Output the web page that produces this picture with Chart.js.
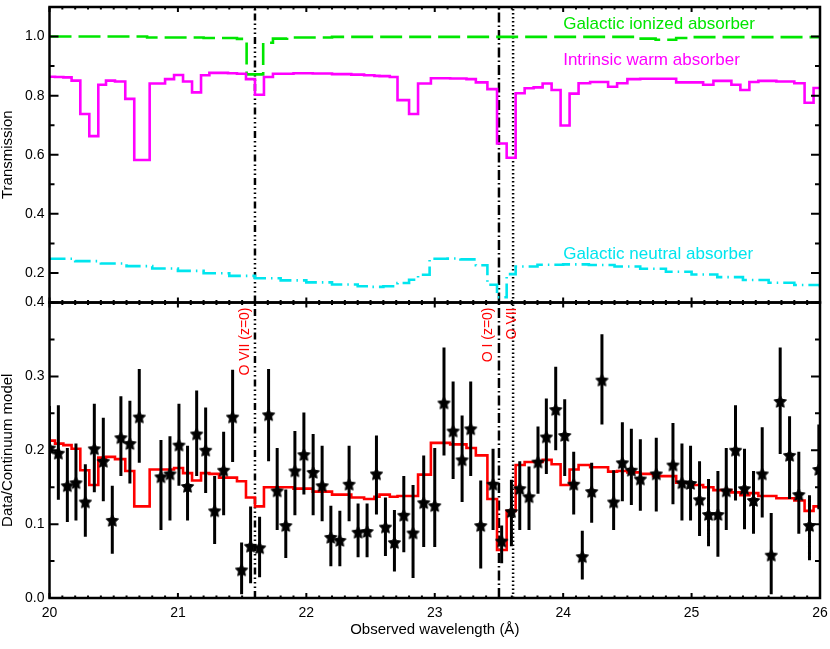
<!DOCTYPE html>
<html>
<head>
<meta charset="utf-8">
<title>Transmission and Data/Continuum model</title>
<script src="https://cdn.jsdelivr.net/npm/chart.js@4.4.1/dist/chart.umd.min.js"></script>
<style>
  html, body { margin: 0; padding: 0; background: #fff; }
  canvas { display: block; }
</style>
</head>
<body>
<canvas id="chart" width="830" height="649"></canvas>
<script>
// model bins (left edges, last one closes the range), in Angstrom
const binEdges = [20.000, 20.043, 20.108, 20.172, 20.240, 20.310, 20.380, 20.440, 20.510, 20.590,
  20.660, 20.780, 20.900, 20.970, 21.040, 21.110, 21.180, 21.245, 21.320, 21.390,
  21.460, 21.530, 21.600, 21.670, 21.740, 21.900, 22.050, 22.200, 22.350, 22.450,
  22.530, 22.570, 22.650, 22.710, 22.800, 22.870, 22.970, 23.120, 23.247, 23.320,
  23.410, 23.485, 23.560, 23.630, 23.700, 23.770, 23.840, 23.910, 23.980, 24.050,
  24.120, 24.210, 24.350, 24.420, 24.500, 24.600, 24.700, 24.880, 25.000, 25.090,
  25.170, 25.310, 25.380, 25.450, 25.520, 25.660, 25.800, 25.880, 25.950, 26.000];
const warmTrans = [0.864, 0.863, 0.862, 0.851, 0.738, 0.663, 0.837, 0.851, 0.848, 0.789,
  0.582, 0.841, 0.856, 0.870, 0.848, 0.811, 0.869, 0.877, 0.877, 0.876,
  0.874, 0.856, 0.803, 0.863, 0.874, 0.876, 0.875, 0.873, 0.871, 0.869,
  0.867, 0.866, 0.863, 0.785, 0.738, 0.841, 0.859, 0.858, 0.856, 0.845,
  0.822, 0.638, 0.590, 0.808, 0.825, 0.828, 0.841, 0.819, 0.699, 0.807,
  0.842, 0.846, 0.830, 0.842, 0.856, 0.857, 0.857, 0.845, 0.845, 0.837,
  0.850, 0.837, 0.819, 0.846, 0.850, 0.848, 0.842, 0.776, 0.826, 0.826];
const modelRatio = [0.213, 0.209, 0.207, 0.202, 0.173, 0.153, 0.190, 0.191, 0.188, 0.172,
  0.124, 0.174, 0.174, 0.176, 0.169, 0.159, 0.169, 0.168, 0.163, 0.163,
  0.158, 0.136, 0.124, 0.150, 0.150, 0.148, 0.144, 0.140, 0.136, 0.134,
  0.137, 0.140, 0.137, 0.138, 0.138, 0.167, 0.210, 0.208, 0.203, 0.193,
  0.134, 0.065, 0.118, 0.180, 0.184, 0.184, 0.187, 0.181, 0.153, 0.174,
  0.180, 0.177, 0.171, 0.172, 0.170, 0.168, 0.165, 0.156, 0.153, 0.150,
  0.146, 0.143, 0.139, 0.142, 0.138, 0.135, 0.132, 0.118, 0.124, 0.124];

// galactic ionized absorber
const ionEdges = [20.00, 20.76, 21.20, 21.46, 21.535, 21.664, 21.74, 21.85, 22.20, 24.57, 24.72, 24.88, 25.00, 26.00];
const ionTrans = [1.000, 0.997, 0.995, 0.992, 0.872, 0.979, 0.993, 0.997, 0.999, 0.993, 0.989, 0.995, 0.998, 0.998];

// galactic neutral absorber
const neuEdges = [20.0, 20.2, 20.4, 20.6, 20.8, 21.0, 21.2, 21.4, 21.6, 21.8,
  22.0, 22.2, 22.4, 22.5, 22.6, 22.71, 22.80, 22.87, 22.96, 23.1,
  23.2, 23.32, 23.41, 23.485, 23.56, 23.63, 23.8, 24.0, 24.2, 24.4,
  24.6, 24.8, 25.0, 25.2, 25.4, 25.6, 25.8, 26.0];
const neuTrans = [0.248, 0.240, 0.232, 0.223, 0.215, 0.207, 0.199, 0.190, 0.182, 0.175,
  0.168, 0.161, 0.155, 0.153, 0.155, 0.166, 0.177, 0.194, 0.248, 0.249,
  0.246, 0.226, 0.160, 0.118, 0.196, 0.222, 0.228, 0.229, 0.227, 0.222,
  0.214, 0.204, 0.195, 0.186, 0.176, 0.167, 0.159, 0.151];

// data / continuum with 1-sigma ranges
const dataLambda = [20.000, 20.069, 20.139, 20.206, 20.279, 20.349, 20.419, 20.489, 20.556, 20.626,
  20.699, 20.868, 20.938, 21.008, 21.075, 21.146, 21.216, 21.286, 21.356, 21.426,
  21.496, 21.566, 21.636, 21.706, 21.773, 21.840, 21.911, 21.981, 22.053, 22.123,
  22.191, 22.261, 22.333, 22.403, 22.473, 22.546, 22.616, 22.686, 22.759, 22.831,
  22.914, 23.000, 23.072, 23.143, 23.213, 23.280, 23.358, 23.454, 23.521, 23.597,
  23.662, 23.734, 23.804, 23.869, 23.942, 24.012, 24.082, 24.149, 24.222, 24.302,
  24.393, 24.461, 24.531, 24.601, 24.725, 24.855, 24.925, 24.992, 25.062, 25.132,
  25.205, 25.270, 25.342, 25.412, 25.482, 25.550, 25.620, 25.690, 25.763, 25.835,
  25.918, 25.991];
const dataRatio = [0.203, 0.196, 0.152, 0.156, 0.130, 0.202, 0.185, 0.105, 0.217, 0.209,
  0.245, 0.164, 0.168, 0.207, 0.151, 0.222, 0.200, 0.118, 0.173, 0.245,
  0.038, 0.070, 0.068, 0.248, 0.145, 0.098, 0.172, 0.194, 0.170, 0.152,
  0.082, 0.078, 0.154, 0.089, 0.090, 0.168, 0.096, 0.075, 0.112, 0.088,
  0.129, 0.125, 0.264, 0.226, 0.187, 0.229, 0.098, 0.154, 0.077, 0.117,
  0.148, 0.137, 0.184, 0.218, 0.255, 0.220, 0.154, 0.056, 0.144, 0.295,
  0.130, 0.183, 0.173, 0.161, 0.168, 0.180, 0.156, 0.155, 0.133, 0.113,
  0.113, 0.145, 0.200, 0.148, 0.132, 0.168, 0.058, 0.266, 0.193, 0.140,
  0.098, 0.174];
const dataLow = [0.150, 0.133, 0.103, 0.105, 0.083, 0.143, 0.131, 0.060, 0.165, 0.155,
  0.183, 0.092, 0.105, 0.152, 0.105, 0.165, 0.142, 0.073, 0.112, 0.184,
  0.005, 0.020, 0.028, 0.185, 0.092, 0.054, 0.112, 0.140, 0.112, 0.104,
  0.043, 0.043, 0.104, 0.055, 0.055, 0.113, 0.057, 0.036, 0.062, 0.027,
  0.069, 0.069, 0.193, 0.161, 0.130, 0.165, 0.040, 0.092, 0.047, 0.070,
  0.092, 0.092, 0.141, 0.168, 0.200, 0.165, 0.113, 0.025, 0.102, 0.235,
  0.092, 0.131, 0.126, 0.118, 0.117, 0.127, 0.105, 0.105, 0.084, 0.070,
  0.056, 0.092, 0.132, 0.093, 0.087, 0.109, 0.005, 0.195, 0.134, 0.087,
  0.051, 0.120];
const dataHigh = [0.260, 0.261, 0.203, 0.209, 0.181, 0.263, 0.244, 0.152, 0.273, 0.267,
  0.310, 0.214, 0.219, 0.263, 0.206, 0.281, 0.258, 0.165, 0.225, 0.309,
  0.075, 0.124, 0.110, 0.310, 0.203, 0.147, 0.226, 0.251, 0.222, 0.206,
  0.125, 0.118, 0.206, 0.128, 0.128, 0.220, 0.136, 0.119, 0.165, 0.153,
  0.193, 0.203, 0.339, 0.293, 0.247, 0.293, 0.159, 0.202, 0.098, 0.160,
  0.185, 0.178, 0.232, 0.270, 0.313, 0.269, 0.198, 0.091, 0.183, 0.357,
  0.173, 0.238, 0.229, 0.215, 0.217, 0.237, 0.209, 0.206, 0.185, 0.161,
  0.172, 0.203, 0.261, 0.202, 0.172, 0.231, 0.115, 0.339, 0.246, 0.198,
  0.139, 0.235];

// rest wavelengths of the marked lines
const lineLambda = [21.6, 23.5, 23.61];
const lineLabels = ['O VII (z=0)', 'O I (z=0)', 'O VII'];

const xTicks = [20, 21, 22, 23, 24, 25, 26];
const topTicks = [0.2, 0.4, 0.6, 0.8, 1.0];
const bottomTicks = [0.0, 0.1, 0.2, 0.3, 0.4];

const FONT = '"Liberation Sans", Arial, Helvetica, sans-serif';
const GREEN = '#00e600', MAGENTA = '#ff00ff', CYAN = '#00e5ee', RED = '#ff0000';

function steps(edges, vals) {
  return edges.map((e, i) => ({x: e, y: vals[i]}));
}

function errorBars() {
  const out = [];
  dataLambda.forEach((l, i) => {
    out.push({x: l, y: dataLow[i]}, {x: l, y: dataHigh[i]}, {x: l, y: null});
  });
  return out;
}

// filled star marker
function starMarker(r) {
  const c = document.createElement('canvas');
  c.width = c.height = Math.ceil(r * 2 + 2);
  const g = c.getContext('2d');
  const cx = c.width / 2, cy = c.height / 2 + 0.5;
  g.beginPath();
  for (let k = 0; k < 10; k++) {
    const rr = k % 2 ? r * 0.5 : r;
    const a = -Math.PI / 2 + k * Math.PI / 5;
    g.lineTo(cx + rr * Math.cos(a), cy + rr * Math.sin(a));
  }
  g.closePath();
  g.fillStyle = '#000';
  g.fill();
  g.lineWidth = 1;
  g.strokeStyle = '#000';
  g.stroke();
  return c;
}

const lineDash = [[7, 3, 1.5, 3, 1.5, 3, 1.5, 3], [10, 3, 1.5, 3], [1.5, 2.5]];
const topRange = [0.1, 1.1], bottomRange = [0, 0.4];

function vlines() {
  const sets = [];
  lineLambda.forEach((l, i) => {
    [['yTop', topRange], ['yBot', bottomRange]].forEach(([ax, r]) => {
      sets.push({
        type: 'line', yAxisID: ax,
        data: [{x: l, y: r[0]}, {x: l, y: r[1]}],
        borderColor: '#000', borderWidth: 2.5, borderDash: lineDash[i],
        pointRadius: 0, order: 5
      });
    });
  });
  return sets;
}

const stepLine = (data, ax, color, dash) => ({
  type: 'line', yAxisID: ax, data: data, stepped: 'before',
  borderColor: color, borderWidth: 2.6, borderDash: dash || [],
  borderJoinStyle: 'miter', pointRadius: 0, order: 3
});

const framePlugin = {
  id: 'frame',
  afterDatasetsDraw(chart) {
    const {ctx, scales} = chart;
    const x = scales.x;
    ctx.save();
    // absorber names
    ctx.font = '17px ' + FONT;
    ctx.textAlign = 'left';
    ctx.textBaseline = 'middle';
    const names = [['Galactic ionized absorber', 1.04, GREEN],
      ['Intrinsic warm absorber', 0.919, MAGENTA],
      ['Galactic neutral absorber', 0.262, CYAN]];
    names.forEach(([t, v, c]) => {
      ctx.fillStyle = c;
      ctx.fillText(t, x.getPixelForValue(24.0), scales.yTop.getPixelForValue(v));
    });
    // line identifications, rotated
    ctx.font = '14px ' + FONT;
    ctx.fillStyle = RED;
    ctx.textAlign = 'right';
    ctx.textBaseline = 'alphabetic';
    const anchors = [21.553, 23.446, 23.635];
    lineLabels.forEach((t, i) => {
      ctx.save();
      ctx.translate(x.getPixelForValue(anchors[i]), scales.yBot.top + 5);
      ctx.rotate(-Math.PI / 2);
      ctx.fillText(t, 0, 0);
      ctx.restore();
    });
    ctx.restore();
  },
  afterDraw(chart) {
    const {ctx, chartArea: a, scales} = chart;
    const x = scales.x;
    ctx.save();
    ctx.strokeStyle = '#000';
    ctx.lineWidth = 2;
    const panels = [[scales.yTop, 1, 11, 0.1], [scales.yBot, 0, 8, 0.05]];
    panels.forEach(([y, k0, k1, step]) => {
      ctx.beginPath();
      for (let k = 0; k <= 60; k++) {
        const px = x.getPixelForValue(20 + k / 10);
        const len = k % 10 === 0 ? 5 : 2.5;
        ctx.moveTo(px, y.top); ctx.lineTo(px, y.top + len);
        ctx.moveTo(px, y.bottom); ctx.lineTo(px, y.bottom - len);
      }
      for (let k = k0; k <= k1; k++) {
        const py = y.getPixelForValue(k * step);
        const len = k % 2 === 0 ? 9 : 5;
        ctx.moveTo(a.left, py); ctx.lineTo(a.left + len, py);
        ctx.moveTo(a.right, py); ctx.lineTo(a.right - len, py);
      }
      ctx.stroke();
      ctx.lineWidth = 2.5;
      ctx.strokeRect(a.left, y.top, a.right - a.left, y.bottom - y.top);
      ctx.lineWidth = 2;
    });
    ctx.restore();
  }
};

const tickFont = {family: FONT, size: 14};
const titleFont = {family: FONT, size: 15, lineHeight: 1};

const yAxis = (title, range, ticks, weight) => ({
  type: 'linear', position: 'left', stack: 'panels', stackWeight: 1, weight: weight,
  min: range[0], max: range[1],
  grid: {display: false, drawTicks: false}, border: {display: false},
  afterBuildTicks: s => { s.ticks = ticks.map(v => ({value: v})); },
  ticks: {font: tickFont, color: '#000', padding: 5, callback: v => v.toFixed(1)},
  title: {display: true, text: title, font: titleFont, color: '#000', padding: 0},
  afterFit: s => { s.width = 49.5; s.paddingTop = 0; s.paddingBottom = 0; }
});

new Chart(document.getElementById('chart'), {
  type: 'line',
  data: {
    datasets: [
      {
        type: 'line', yAxisID: 'yBot', showLine: false,
        data: dataLambda.map((l, i) => ({x: l, y: dataRatio[i]})),
        pointStyle: starMarker(6.5), pointRadius: 6, order: 0
      },
      {
        type: 'line', yAxisID: 'yBot', data: errorBars(), spanGaps: false,
        borderColor: '#000', borderWidth: 3, pointRadius: 0, order: 1
      },
      stepLine(steps(binEdges, modelRatio), 'yBot', RED),
      stepLine(steps(binEdges, warmTrans), 'yTop', MAGENTA),
      stepLine(steps(ionEdges, ionTrans), 'yTop', GREEN, [22, 7]),
      stepLine(steps(neuEdges, neuTrans), 'yTop', CYAN, [16, 5, 1.5, 5]),
      ...vlines()
    ]
  },
  options: {
    responsive: false,
    animation: false,
    events: [],
    layout: {padding: {top: 2, right: 10, left: 0, bottom: 0}},
    plugins: {legend: {display: false}, tooltip: {enabled: false}},
    scales: {
      x: {
        type: 'linear', position: 'bottom', min: 20, max: 26,
        grid: {display: false, drawTicks: false}, border: {display: false},
        afterBuildTicks: s => { s.ticks = xTicks.map(v => ({value: v})); },
        ticks: {font: tickFont, color: '#000', padding: 7, maxRotation: 0, callback: v => String(v)},
        title: {display: true, text: 'Observed wavelength (Å)', font: titleFont, color: '#000',
                padding: {top: 0, bottom: 11.5}},
        afterFit: s => { s.height = 51; s.paddingLeft = 0; s.paddingRight = 0; }
      },
      yTop: yAxis('Transmission', topRange, topTicks, 2),
      yBot: yAxis('Data/Continuum model', bottomRange, bottomTicks, 1)
    }
  },
  plugins: [framePlugin]
});
</script>
</body>
</html>
